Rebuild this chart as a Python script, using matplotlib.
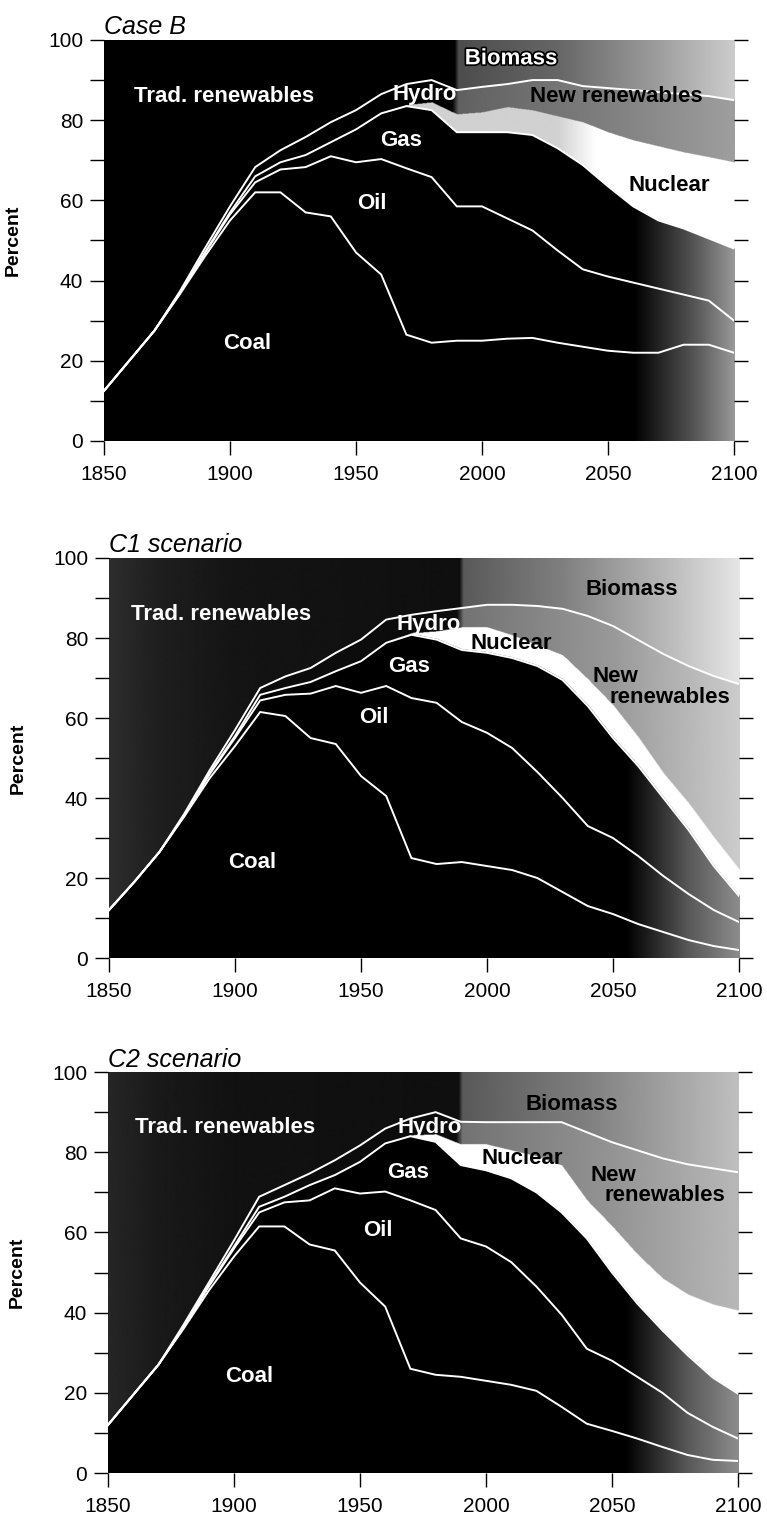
import numpy as np
import matplotlib
matplotlib.use('Agg')
import matplotlib.pyplot as plt
import matplotlib.patheffects as pe

plt.rcParams['font.family'] = ['Liberation Sans', 'DejaVu Sans']

# shares of global primary energy (percent)
years = [1850, 1860, 1870, 1880, 1890, 1900, 1910, 1920, 1930, 1940, 1950, 1960, 1970,
         1980, 1990, 2000, 2010, 2020, 2030, 2040, 2050, 2060, 2070, 2080, 2090, 2100]

caseb_coal = [12.5, 20, 27.5, 36.5, 46, 55, 62, 62, 57, 56, 47, 41.5, 26.5,
              24.5, 25, 25, 25.5, 25.7, 24.5, 23.5, 22.5, 22, 22, 24, 24, 22]
caseb_oil = [0, 0, 0, 0.2, 0.8, 1.5, 2.5, 5.7, 11.3, 15, 22.5, 28.8, 41.5,
             41.3, 33.5, 33.5, 30, 26.8, 23, 19.3, 18.5, 17.5, 16, 12.5, 11, 8]
caseb_gas = [0, 0, 0, 0.1, 0.2, 0.5, 1.5, 1.8, 3, 3.5, 8.2, 11.4, 15.5,
             16.7, 18.5, 18.5, 21.5, 23.8, 25.5, 26, 22.5, 19, 17, 16.5, 15.5, 18]
caseb_nuclear = [0, 0, 0, 0, 0, 0, 0, 0, 0, 0, 0, 0, 0.3,
                 2, 4.5, 5, 6.3, 6.2, 8, 10.7, 13.5, 16.5, 18.5, 19, 20.3, 21.5]
caseb_hydro_new = [0, 0, 0, 0.4, 1, 1.5, 2.3, 3, 4.5, 5, 4.8, 4.8, 5.2,
                   5.5, 6, 6.3, 5.7, 7.5, 9, 9, 11, 12.5, 13.5, 14.5, 15.2, 15.5]

c1_coal = [12, 19, 26.5, 35.5, 45, 53, 61.5, 60.5, 55, 53.5, 45.5, 40.5, 25,
           23.5, 24, 23, 22, 20, 16.5, 13, 11, 8.5, 6.5, 4.5, 3, 2]
c1_oil = [0, 0, 0, 0.2, 1, 2, 2.9, 5.3, 11.1, 14.5, 20.8, 27.5, 40,
          40.3, 35, 33.3, 30.5, 26.5, 23.5, 20, 19, 17, 14, 11.5, 9, 7]
c1_gas = [0, 0, 0, 0.1, 0.3, 0.5, 1.4, 1.7, 2.9, 3.7, 7.9, 10.8, 15.8,
          15.8, 18, 20, 22.5, 26.5, 29.5, 30, 25, 22.5, 19.5, 16, 11, 6.5]
c1_nuclear = [0, 0, 0, 0, 0, 0, 0, 0, 0, 0, 0, 0, 0.2,
              1.9, 5.5, 6.2, 5.5, 5, 6, 6.5, 8, 7, 6, 6.5, 7, 6.5]
c1_hydro_new = [0, 0, 0, 0.4, 0.7, 1.5, 1.7, 2.9, 3.5, 4.6, 5.4, 5.8, 4.8,
                5.2, 5, 5.8, 7.8, 10, 11.8, 16, 20, 24.5, 30, 34.5, 40.5, 46.5]

c2_coal = [12, 19.5, 27, 36, 45.5, 54, 61.5, 61.5, 57, 55.5, 47.5, 41.5, 26,
           24.5, 24, 23, 22, 20.5, 16.5, 12.3, 10.5, 8.6, 6.5, 4.5, 3.3, 3]
c2_oil = [0, 0, 0, 0.3, 1, 2, 3.5, 6, 11, 15.5, 22.2, 28.7, 42,
          41.1, 34.5, 33.5, 30.6, 26, 23, 18.7, 17.5, 15.4, 13.5, 10.5, 8.2, 5.6]
c2_gas = [0, 0, 0, 0.1, 0.3, 0.5, 1.4, 1.4, 3.8, 3.3, 7.9, 12, 16,
          17, 18.3, 19, 20.9, 23.5, 25.5, 27.5, 22, 18.3, 15.6, 14.4, 12.3, 11.2]
c2_nuclear = [0, 0, 0, 0, 0, 0, 0, 0, 0, 0, 0, 0, 0.2,
              1.9, 5.2, 6.5, 7, 9, 11.7, 9.5, 11.5, 12.2, 12.9, 15.1, 18.2, 20.7]
c2_hydro_new = [0, 0, 0, 0.6, 0.7, 1.5, 2.5, 2.9, 2.9, 3.7, 4.1, 3.7, 4.2,
                5.5, 5.6, 5.5, 7, 8.5, 10.8, 17, 21, 26, 30, 32.5, 34, 34.5]

y_ticks = [0, 20, 40, 60, 80, 100]
x_ticks = [1850, 1900, 1950, 2000, 2050, 2100]


def tone(stops, xs):
    return np.interp(xs, stops[0], stops[1])


def draw_panel(ax, title, shares, tones, labels):
    yr = np.array(years, dtype=float)
    cum = np.cumsum(np.vstack(shares), axis=0)

    # raster of the stacked layers so each band can carry a horizontal gradient
    xs = np.linspace(1850, 2100, 1260)
    ys = np.linspace(0, 100, 800)
    b = np.array([np.interp(xs, yr, row) for row in cum])
    idx = np.sum(ys[:, None, None] > b[None, :, :], axis=1)
    T = np.array([tone(t, xs) for t in tones])
    img = T[idx, np.arange(len(xs))[None, :]]
    ax.imshow(img, extent=(1850, 2100, 0, 100), origin='lower', aspect='auto',
              cmap='gray', vmin=0, vmax=1, interpolation='bilinear')

    for k in [0, 1, 2, 4]:
        ax.plot(yr, cum[k], color='white', lw=1.4, solid_joinstyle='miter')

    for txt, x, y, col, ha, halo in labels:
        t = ax.text(x, y, txt, color=col, ha=ha, va='center', fontsize=16,
                    fontweight='bold')
        if halo:
            t.set_path_effects([pe.withStroke(linewidth=2.5, foreground='black')])

    ax.set_xlim(1850, 2100)
    ax.set_ylim(0, 100)
    ax.set_xticks(x_ticks)
    ax.set_yticks(y_ticks)
    ax.set_yticks(np.arange(10, 100, 20), minor=True)
    ax.tick_params(axis='both', which='both', direction='out', length=10, width=1,
                   labelsize=15, right=True, pad=5)
    ax.tick_params(axis='x', pad=7)
    for s in ax.spines.values():
        s.set_visible(False)
    ax.set_ylabel('Percent', fontsize=14, fontweight='bold')
    ax.yaxis.set_label_coords(-0.13, 0.5)
    ax.set_title(title, loc='left', fontstyle='italic', fontsize=18, pad=4)


fossil_b = ([1850, 2060, 2085, 2100], [0, 0, 0.35, 0.6])
tones_b = [fossil_b, fossil_b, fossil_b,
           ([1850, 2030, 2045, 2100], [0.82, 0.82, 1.0, 1.0]),
           ([1850, 1988, 1990.5, 2050, 2100], [0, 0, 0.38, 0.5, 0.62]),
           ([1850, 1989, 1990.5, 2030, 2070, 2100], [0, 0, 0.3, 0.4, 0.62, 0.8])]

fossil_c = ([1850, 2055, 2080, 2100], [0, 0, 0.35, 0.55])
tones_c1 = [fossil_c, fossil_c, fossil_c,
            ([1850, 2100], [1.0, 1.0]),
            ([1850, 1988, 1990.5, 2050, 2100], [0.05, 0.05, 0.45, 0.6, 0.8]),
            ([1850, 1870, 1900, 1989, 1990.5, 2030, 2070, 2100],
             [0.18, 0.12, 0.08, 0.06, 0.35, 0.5, 0.72, 0.9])]
tones_c2 = [fossil_c, fossil_c, fossil_c,
            ([1850, 2100], [1.0, 1.0]),
            ([1850, 1988, 1990.5, 2050, 2100], [0.05, 0.05, 0.45, 0.58, 0.72]),
            ([1850, 1870, 1900, 1989, 1990.5, 2040, 2100],
             [0.15, 0.1, 0.07, 0.06, 0.35, 0.5, 0.75])]

labels_b = [('Trad. renewables', 1897.6, 85.8, 'white', 'center', False),
            ('Hydro', 1977.4, 86.4, 'white', 'center', False),
            ('Gas', 1968, 75, 'white', 'center', False),
            ('Oil', 1956.4, 59.1, 'white', 'center', False),
            ('Coal', 1906.8, 24.4, 'white', 'center', False),
            ('Biomass', 2011.5, 95.3, 'white', 'center', True),
            ('New renewables', 2053.4, 86, 'black', 'center', False),
            ('Nuclear', 2074.2, 63.8, 'black', 'center', False)]
labels_c1 = [('Trad. renewables', 1894.6, 86, 'white', 'center', False),
             ('Hydro', 1977, 83.5, 'white', 'center', False),
             ('Gas', 1969, 73, 'white', 'center', False),
             ('Oil', 1955, 60.2, 'white', 'center', False),
             ('Coal', 1906.7, 23.8, 'white', 'center', False),
             ('Nuclear', 2009.7, 78.6, 'black', 'center', False),
             ('Biomass', 2057.5, 92, 'black', 'center', False),
             ('New', 2041.7, 70.4, 'black', 'left', False),
             ('renewables', 2048.8, 65.2, 'black', 'left', False)]
labels_c2 = [('Trad. renewables', 1896.5, 86.2, 'white', 'center', False),
             ('Hydro', 1977.6, 86.2, 'white', 'center', False),
             ('Gas', 1969.2, 74.9, 'white', 'center', False),
             ('Oil', 1956.9, 60.6, 'white', 'center', False),
             ('Coal', 1906.2, 24, 'white', 'center', False),
             ('Nuclear', 2014.5, 78.5, 'black', 'center', False),
             ('Biomass', 2034, 91.8, 'black', 'center', False),
             ('New', 2041.5, 74.2, 'black', 'left', False),
             ('renewables', 2047.1, 69.3, 'black', 'left', False)]

fig = plt.figure(figsize=(7.67, 15.2), dpi=100)
ax1 = fig.add_axes([0.1356, 0.7099, 0.8214, 0.2638])
ax2 = fig.add_axes([0.1421, 0.3697, 0.8214, 0.2632])
ax3 = fig.add_axes([0.1408, 0.0309, 0.8214, 0.2638])

draw_panel(ax1, 'Case B',
           [caseb_coal, caseb_oil, caseb_gas, caseb_nuclear, caseb_hydro_new],
           tones_b, labels_b)
draw_panel(ax2, 'C1 scenario',
           [c1_coal, c1_oil, c1_gas, c1_nuclear, c1_hydro_new],
           tones_c1, labels_c1)
draw_panel(ax3, 'C2 scenario',
           [c2_coal, c2_oil, c2_gas, c2_nuclear, c2_hydro_new],
           tones_c2, labels_c2)

fig.savefig('out.png', dpi=100, facecolor='white')
